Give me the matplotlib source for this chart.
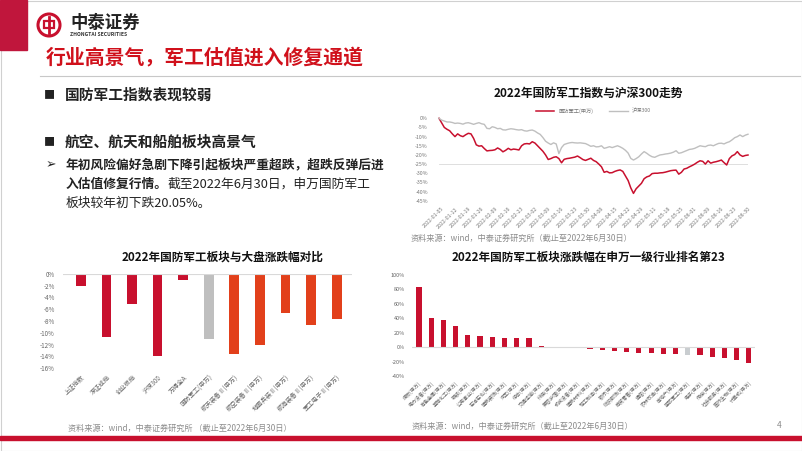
import matplotlib
matplotlib.use("Agg")
import matplotlib.pyplot as plt
from matplotlib.patches import Rectangle, Circle

plt.rcParams['font.family'] = ['Noto Sans CJK SC', 'DejaVu Sans']
plt.rcParams['axes.unicode_minus'] = False

# ---- data: 2022 index trend (% vs start of year, one value per trading day) ----
jungong = [0, -2.5, -5, -6, -6.8, -8.5, -10, -8.5, -9.5, -10,
           -9, -8.2, -8.5, -11, -14.5, -15.2, -15, -16.5, -17.8, -17.6,
           -17.5, -17.2, -16.2, -17, -18.3, -17.5, -16.4, -17.2, -16.8, -17,
           -17.3, -15, -14, -13.8, -14, -12.8, -13.5, -15, -16.5, -18,
           -20, -22.5, -22, -21.3, -21, -22, -24.3, -22.4, -22, -21.8,
           -21.5, -21.2, -20.6, -21.5, -22.5, -23, -22.4, -21.8, -23, -23.7,
           -25, -26.5, -29.5, -29, -29.8, -29.7, -29, -28.5, -28.2, -29,
           -31.5, -34, -38, -41, -38.5, -37, -35.5, -33, -32, -31.5,
           -30.2, -30, -30, -29.8, -29.7, -29.4, -29, -28.6, -28.4, -28.3,
           -30.5, -29.5, -27.7, -27.3, -26.5, -25.8, -25, -24, -23.2, -23.5,
           -25, -23.2, -24.5, -24, -23.7, -23.3, -22.8, -24.2, -25.5, -22,
           -20.5, -19.8, -18.2, -20, -20.8, -20.3, -20.05]
hs300 = [0, -1, -1.5, -2, -2, -2.3, -2.8, -2.6, -2.8, -3.2,
         -2.6, -2.4, -2.8, -3.3, -2.8, -2.4, -3, -3.3, -5.5, -5.7,
         -4.6, -5, -5.7, -5.5, -6.3, -6.4, -6, -5.7, -5.9, -6.2,
         -6.4, -6.2, -6.8, -7, -6.6, -6.4, -7, -8, -8.8, -10.5,
         -12.5, -13.5, -14.3, -13.4, -14, -19.3, -16, -14.3, -13.8, -13.4,
         -13.2, -13.4, -13.5, -13.4, -13.6, -13.8, -14.5, -15.3, -15, -15.6,
         -15.5, -15, -16.4, -16, -15.5, -16, -15.5, -15, -15.6, -16.4,
         -17.5, -19, -21.9, -22.8, -22, -21, -19.5, -18.2, -19.1, -20.2,
         -21, -21.3, -20.6, -20, -19.8, -19.5, -19.3, -19, -18.5, -17.7,
         -19.1, -18.8, -18.2, -17.6, -17, -16.8, -16.4, -15.7, -15, -15.3,
         -15.5, -14.8, -14.6, -15, -14.3, -13.7, -13.6, -14, -13.3, -12.8,
         -11.8, -10.6, -10, -9.1, -10, -9.2, -8.7]
date_labels = ['2022-01-05', '2022-01-12', '2022-01-19', '2022-01-26', '2022-02-09',
               '2022-02-16', '2022-02-23', '2022-03-02', '2022-03-09', '2022-03-16',
               '2022-03-23', '2022-03-30', '2022-04-08', '2022-04-15', '2022-04-22',
               '2022-04-29', '2022-05-11', '2022-05-18', '2022-05-25', '2022-06-01',
               '2022-06-09', '2022-06-16', '2022-06-23', '2022-06-30']

# ---- data: sector vs market ----
cmp_names = ['上证指数', '深证成指', '创业板指', '沪深300', '万得全A', '国防军工(申万)',
             '航天装备Ⅱ(申万)', '航空装备Ⅱ(申万)', '地面兵装Ⅱ(申万)',
             '航海装备Ⅱ(申万)', '军工电子Ⅱ(申万)']
cmp_values = [-2.1, -10.8, -5.1, -13.9, -1.1, -11.1, -13.6, -12.1, -6.6, -8.6, -7.7]

# ---- data: SW level-1 industry ranking ----
ind_names = ['煤炭', '电力设备', '有色金属', '基础化工', '钢铁', '公用事业', '石油石化',
             '建筑装饰', '汽车', '综合', '交通运输', '环保', '美容护理', '机械设备',
             '建筑材料', '轻工制造', '银行', '纺织服饰', '商贸零售', '通信', '农林牧渔',
             '房地产', '国防军工', '电子', '传媒', '社会服务', '医药生物', '计算机']
ind_values = [83, 40, 37, 29, 17, 15, 14.5, 13, 13, 12, 1.5, 0.5, -1, -1.5,
              -2, -4, -6, -7, -7.5, -8.5, -9, -9.5, -10.7, -11, -13, -15, -18, -22]

RED = '#C8102E'
ORANGE = '#E2401B'
GREY = '#BFBFBF'
TXT_GREY = '#8C8C8C'
W, H = 802, 451


def box(l, t, r, b):
    return [l / W, 1 - b / H, (r - l) / W, (b - t) / H]


fig = plt.figure(figsize=(W / 100, H / 100), dpi=100)
bg = fig.add_axes([0, 0, 1, 1])
bg.set_xlim(0, W)
bg.set_ylim(H, 0)
bg.axis('off')

# slide decorations
bg.add_patch(Rectangle((0.5, 0.5), W - 1, H - 1, fill=False, ec='#D0D0D0', lw=0.8))
bg.add_patch(Rectangle((0, 0), 27, 50, color='#C0163C'))
bg.add_patch(Circle((49, 25), 11, fill=False, ec=RED, lw=2.2))
bg.plot([49, 49], [17, 33], color=RED, lw=2)
bg.add_patch(Rectangle((44, 21), 10, 7, fill=False, ec=RED, lw=1.6))
bg.text(70, 23, '中泰证券', fontsize=12.5, fontweight='bold', va='center', color='#222222')
bg.text(70, 34, 'ZHONGTAI SECURITIES', fontsize=3.6, fontweight='bold', va='center',
        color='#333333')
bg.text(46, 58, '行业高景气，军工估值进入修复通道', fontsize=14.3, fontweight='bold',
        va='center', color='#D0101B')
bg.plot([40, 800], [76, 76], color='#C8C8C8', lw=0.8)
bg.add_patch(Rectangle((0, 436), W, 4, color=RED))
bg.text(777, 426, '4', fontsize=6, color=TXT_GREY, va='center')

# left bullet text
bg.text(44, 95, '■', fontsize=8, va='center', color='#222222')
bg.text(65, 95, '国防军工指数表现较弱', fontsize=10.6, fontweight='bold', va='center',
        color='#222222')
bg.text(44, 142, '■', fontsize=8, va='center', color='#222222')
bg.text(65, 142, '航空、航天和船舶板块高景气', fontsize=10.6, fontweight='bold', va='center',
        color='#222222')
bg.text(46, 165, '➢', fontsize=9, fontweight='bold', va='center', color='#222222')
bg.text(66, 165, '年初风险偏好急剧下降引起板块严重超跌，超跌反弹后进', fontsize=9.2,
        fontweight='bold', va='center', color='#222222')
t_bold = bg.text(66, 184, '入估值修复行情。', fontsize=9.2, fontweight='bold', va='center',
                 color='#222222')
fig.canvas.draw()
ext = t_bold.get_window_extent(fig.canvas.get_renderer())
bg.text(66 + ext.width, 184, '截至2022年6月30日，申万国防军工', fontsize=9.2, va='center',
        color='#222222')
bg.text(66, 203, '板块较年初下跌20.05%。', fontsize=9.2, va='center', color='#222222')

# chart titles and sources
bg.text(588, 93, '2022年国防军工指数与沪深300走势', fontsize=8.5, fontweight='bold',
        ha='center', va='center', color='#111111')
bg.text(223, 257, '2022年国防军工板块与大盘涨跌幅对比', fontsize=8.4, fontweight='bold',
        ha='center', va='center', color='#111111')
bg.text(588, 257, '2022年国防军工板块涨跌幅在申万一级行业排名第23', fontsize=8.4,
        fontweight='bold', ha='center', va='center', color='#111111')
src = '资料来源：wind，中泰证券研究所（截止至2022年6月30日）'
bg.text(411, 238, src, fontsize=5.9, va='center', color=TXT_GREY)
bg.text(68, 428, '资料来源：wind，中泰证券研究所 （截止至2022年6月30日）', fontsize=5.9,
        va='center', color=TXT_GREY)
bg.text(412, 426, src, fontsize=5.9, va='center', color=TXT_GREY)

# ---- line chart ----
ax1 = fig.add_axes(box(439, 118.3, 748, 200.7))
days = range(len(jungong))
ax1.axhline(-25, color='#D9D9D9', lw=0.6)
ax1.plot(days, jungong, color=RED, lw=1.1, label='国防军工(申万)', clip_on=False)
ax1.plot(days, hs300, color=GREY, lw=1.0, label='沪深300', clip_on=False)
ax1.set_xlim(0, len(jungong) - 1)
ax1.set_ylim(-45, 0)
yt = list(range(0, -50, -5))
ax1.set_yticks(yt)
ax1.set_yticklabels([f'{v}%' for v in yt])
ax1.set_xticks(list(range(1, len(jungong), 5)))
ax1.set_xticklabels(date_labels, rotation=45, ha='right', rotation_mode='anchor')
ax1.tick_params(length=0, labelsize=3.8, colors='#777777', pad=4)
ax1.tick_params(axis='y', pad=8)
for s in ax1.spines.values():
    s.set_visible(False)
ax1.legend(loc='lower center', bbox_to_anchor=(0.5, 1.0), ncol=2, frameon=False,
           fontsize=3.8, handlelength=3.5, columnspacing=3, labelcolor='#777777')

# ---- sector vs market bars ----
ax2 = fig.add_axes(box(63, 274, 352, 368))
cmp_colors = [GREY if n == '国防军工(申万)' else (ORANGE if '(申万)' in n else RED)
              for n in cmp_names]
ax2.bar(range(len(cmp_values)), cmp_values, width=0.38, color=cmp_colors)
ax2.axhline(0, color='#D9D9D9', lw=0.8)
ax2.set_xlim(-0.7, len(cmp_values) - 0.4)
ax2.set_ylim(-16, 0)
yt = list(range(0, -17, -2))
ax2.set_yticks(yt)
ax2.set_yticklabels([f'{v}%' for v in yt])
ax2.set_xticks(range(len(cmp_names)))
ax2.set_xticklabels(cmp_names, rotation=45, ha='right', rotation_mode='anchor')
ax2.tick_params(length=0, labelsize=4.5, colors='#666666', pad=4)
ax2.tick_params(axis='y', pad=6)
for s in ax2.spines.values():
    s.set_visible(False)

# ---- industry ranking bars ----
ax3 = fig.add_axes(box(412, 275, 755, 376))
ind_colors = ['#C9CDD0' if n == '国防军工' else RED for n in ind_names]
ax3.bar(range(len(ind_values)), ind_values, width=0.42, color=ind_colors)
ax3.axhline(0, color='#D9D9D9', lw=0.8)
ax3.set_xlim(-0.57, len(ind_values) - 0.5)
ax3.set_ylim(-40, 100)
yt = list(range(100, -41, -20))
ax3.set_yticks(yt)
ax3.set_yticklabels([f'{v}%' for v in yt])
ax3.set_xticks(range(len(ind_names)))
ax3.set_xticklabels([f'{n}(申万)' for n in ind_names], rotation=45, ha='right',
                    rotation_mode='anchor')
ax3.tick_params(length=0, labelsize=3.6, colors='#666666', pad=3)
ax3.tick_params(axis='y', labelsize=4, pad=5)
for s in ax3.spines.values():
    s.set_visible(False)

fig.savefig('out.png', dpi=100)
